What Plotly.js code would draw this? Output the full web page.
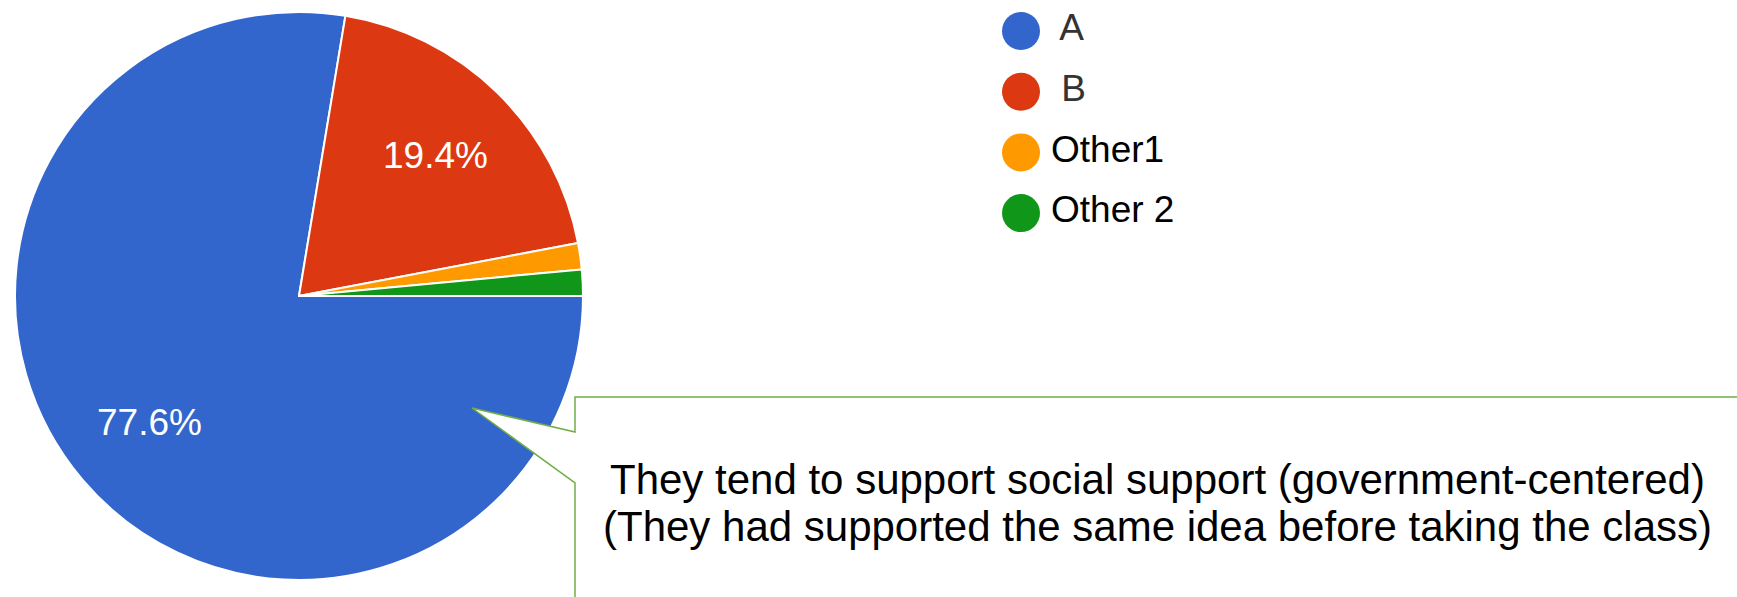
<!DOCTYPE html>
<html>
<head>
<meta charset="utf-8">
<script src="https://cdn.plot.ly/plotly-3.0.1.min.js"></script>
<style>
  html, body { margin: 0; padding: 0; background: #fff; }
  #chart { width: 1737px; height: 597px; }
</style>
</head>
<body>
<div id="chart"></div>
<script>
// ---- data ----
const categories = ["A", "B", "Other1", "Other 2"];
const legendLabels = [" A", " B", "Other1", "Other 2"];
const counts = [52, 13, 1, 1];
const showPercent = [true, true, false, false];
const sliceColors = ["#3366cc", "#dc3912", "#ff9900", "#109618"];
const legendTextColors = ["#333333", "#333333", "#000000", "#000000"];
const calloutLines = [
  "They tend to support social support (government-centered)",
  "(They had supported the same idea before taking the class)"
];

// ---- layout constants (pixels) ----
const W = 1737, H = 597;
const PIE_CX = 299, PIE_CY = 296, PIE_R = 284;
const START_DEG = 90;          // first slice starts at 3 o'clock, clockwise
const LABEL_R = 0.69;          // percent labels at this fraction of radius
const LEG_X = 1021, LEG_Y0 = 31, LEG_DY = 60.7;
const FONT = "Liberation Sans, Arial, Helvetica, sans-serif";

const px = (x, y) => [(x / W).toFixed(5), (1 - y / H).toFixed(5)];
function pathFrom(points) {
  return points.map((p, i) => (i ? "L" : "M") + px(p[0], p[1]).join(",")).join(" ") + " Z";
}

const pie = {
  type: "pie",
  labels: categories,
  values: counts,
  sort: false,
  direction: "clockwise",
  rotation: START_DEG,
  marker: { colors: sliceColors, line: { color: "#ffffff", width: 2 } },
  textinfo: "none",
  hoverinfo: "label+percent",
  showlegend: false,
  domain: { x: [(PIE_CX - PIE_R) / W, (PIE_CX + PIE_R) / W],
            y: [1 - (PIE_CY + PIE_R) / H, 1 - (PIE_CY - PIE_R) / H] }
};

// percent labels placed along each slice's mid-angle, derived from the data
const total = counts.reduce((a, b) => a + b, 0);
const pctAnnotations = [];
let cum = 0;
counts.forEach((v, i) => {
  const mid = START_DEG + (cum + v / 2) / total * 360;
  cum += v;
  if (!showPercent[i]) return;
  const a = mid * Math.PI / 180;
  const x = PIE_CX + LABEL_R * PIE_R * Math.sin(a);
  const y = PIE_CY - LABEL_R * PIE_R * Math.cos(a);
  pctAnnotations.push({
    xref: "paper", yref: "paper", x: x / W, y: 1 - y / H,
    xanchor: "center", yanchor: "middle", showarrow: false,
    text: (v / total * 100).toFixed(1) + "%",
    font: { family: FONT, size: 37, color: "#ffffff" }
  });
});

const legendMarkers = {
  type: "scatter",
  mode: "markers",
  x: categories.map(() => 0),
  y: categories.map((c, i) => i),
  marker: { size: 38, color: sliceColors, line: { width: 0 } },
  hoverinfo: "skip",
  showlegend: false,
  cliponaxis: false
};
const legendText = {
  type: "scatter",
  mode: "text",
  x: categories.map(() => 30),
  y: categories.map((c, i) => i),
  text: legendLabels,
  textposition: "middle right",
  textfont: { family: FONT, size: 37, color: legendTextColors },
  hoverinfo: "skip",
  showlegend: false,
  cliponaxis: false
};

const callout = pathFrom([
  [575, 397], [1745, 397], [1745, 605], [575, 605],
  [575, 483], [472, 408], [575, 432]
]);

const calloutAnnotations = calloutLines.map((t, i) => ({
  xref: "paper", yref: "paper",
  x: 1157 / W, y: 1 - (479 + i * 47.5) / H,
  xanchor: "center", yanchor: "middle",
  text: t, showarrow: false,
  font: { family: FONT, size: 42, color: "#000000" }
}));

const layout = {
  width: W, height: H,
  margin: { l: 0, r: 0, t: 0, b: 0 },
  paper_bgcolor: "#ffffff",
  plot_bgcolor: "rgba(0,0,0,0)",
  showlegend: false,
  xaxis: { visible: false, range: [-LEG_X, W - LEG_X], fixedrange: true },
  yaxis: { visible: false, range: [(H - LEG_Y0) / LEG_DY, -LEG_Y0 / LEG_DY], fixedrange: true },
  shapes: [{
    type: "path", xref: "paper", yref: "paper", layer: "above",
    path: callout,
    fillcolor: "#ffffff",
    line: { color: "#70ad47", width: 1.5 }
  }],
  annotations: pctAnnotations.concat(calloutAnnotations)
};

Plotly.newPlot("chart", [pie, legendMarkers, legendText], layout, { displayModeBar: false, staticPlot: true });
</script>
</body>
</html>
